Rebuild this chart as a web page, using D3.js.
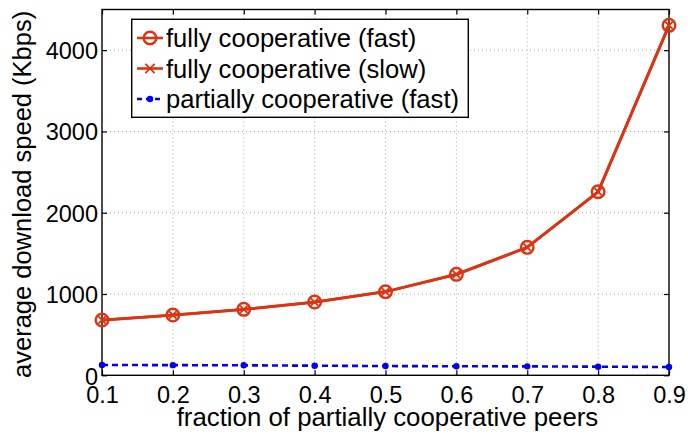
<!DOCTYPE html>
<html><head><meta charset="utf-8">
<script src="https://cdn.jsdelivr.net/npm/d3@7"></script>
<style>body{margin:0;background:#fff}svg{display:block}text{font-family:"Liberation Sans",Arial,sans-serif;fill:#000}</style>
</head><body><svg id="c" width="688" height="435"></svg>
<script>
const fractions = [0.1,0.2,0.3,0.4,0.5,0.6,0.7,0.8,0.9];
const fullyFast = [680,741,811,901,1028,1242,1574,2258,4305];
const fullySlow = [680,741,811,901,1028,1242,1574,2258,4305];
const partialFast = [127,125,123,118,114,111,110,106,102];
const xTicks = [0.1,0.2,0.3,0.4,0.5,0.6,0.7,0.8,0.9];
const yTicks = [0,1000,2000,3000,4000];
const seriesNames = ["fully cooperative (fast)","fully cooperative (slow)","partially cooperative (fast)"];

const red = "#dd3311", blue = "#0000ff";
const svg = d3.select("#c");
const L=102, R=669, T=9.5, B=375.3;
const x = d3.scaleLinear().domain([0.1,0.9]).range([L,R]);
const y = d3.scaleLinear().domain([0,4500]).range([B,T]);

// grid
const g = svg.append("g");
g.selectAll(".gx").data(xTicks.slice(1,-1)).enter().append("line")
 .attr("x1",d=>x(d)).attr("x2",d=>x(d)).attr("y1",T).attr("y2",B)
 .attr("stroke","#aaa").attr("stroke-width",1).attr("stroke-dasharray","1,3");
g.selectAll(".gy").data(yTicks.slice(1)).enter().append("line")
 .attr("x1",L).attr("x2",R).attr("y1",d=>y(d)).attr("y2",d=>y(d))
 .attr("stroke","#aaa").attr("stroke-width",1).attr("stroke-dasharray","1,3");

// axes
const fs = 23.5;
const ax = svg.append("g").attr("transform",`translate(0,${B})`)
 .call(d3.axisBottom(x).tickValues(xTicks).tickFormat(d3.format(".1f")).tickSizeInner(-5).tickSizeOuter(0).tickPadding(11));
const axT = svg.append("g").attr("transform",`translate(0,${T})`)
 .call(d3.axisTop(x).tickValues(xTicks).tickFormat("").tickSizeInner(-5).tickSizeOuter(0));
const ay = svg.append("g").attr("transform",`translate(${L},0)`)
 .call(d3.axisLeft(y).tickValues(yTicks).tickFormat(d3.format("d")).tickSizeInner(-5).tickSizeOuter(0).tickPadding(4));
const ayR = svg.append("g").attr("transform",`translate(${R},0)`)
 .call(d3.axisRight(y).tickValues(yTicks).tickFormat("").tickSizeInner(-5).tickSizeOuter(0));
[ax,axT,ay,ayR].forEach(a=>{
  a.selectAll("path").remove();
  a.selectAll("line").attr("stroke","#000").attr("stroke-width",1.2);
  a.selectAll("text").attr("font-size",fs).attr("font-family","Liberation Sans, Arial, sans-serif").attr("fill","#000");
});
ay.selectAll("text").attr("dy","0.36em");
ay.selectAll(".tick").filter(d=>d===0).select("text").attr("dy","0.38em");
svg.append("rect").attr("x",L).attr("y",T).attr("width",R-L).attr("height",B-T)
 .attr("fill","none").attr("stroke","#000").attr("stroke-width",1.4);

// series
const line = d3.line().x((d,i)=>x(fractions[i])).y(d=>y(d));
svg.append("path").datum(partialFast).attr("d",line).attr("fill","none")
 .attr("stroke",blue).attr("stroke-width",2.6).attr("stroke-dasharray","6,4");
svg.selectAll(".pd").data(partialFast).enter().append("circle")
 .attr("cx",(d,i)=>x(fractions[i])).attr("cy",d=>y(d)).attr("r",3.2).attr("fill",blue);

svg.append("path").datum(fullySlow).attr("d",line).attr("fill","none").attr("stroke",red).attr("stroke-width",2.8);
svg.append("path").datum(fullyFast).attr("d",line).attr("fill","none").attr("stroke",red).attr("stroke-width",2.8);
const xm = 3.6;
fullySlow.forEach((d,i)=>{
  const cx=x(fractions[i]), cy=y(d);
  svg.append("path").attr("d",`M${cx-xm},${cy-xm}L${cx+xm},${cy+xm}M${cx-xm},${cy+xm}L${cx+xm},${cy-xm}`)
   .attr("stroke",red).attr("stroke-width",1.8);
});
svg.selectAll(".fc").data(fullyFast).enter().append("circle")
 .attr("cx",(d,i)=>x(fractions[i])).attr("cy",d=>y(d)).attr("r",6.3)
 .attr("fill","none").attr("stroke",red).attr("stroke-width",2.4);

// labels
svg.append("text").attr("x",(L+R)/2+2).attr("y",425.5).attr("text-anchor","middle").attr("font-size",25.8)
 .text("fraction of partially cooperative peers");
svg.append("text").attr("transform",`translate(31,${(T+B)/2+2}) rotate(-90)`).attr("text-anchor","middle").attr("font-size",25.5)
 .text("average download speed (Kbps)");

// legend
const lg = svg.append("g");
lg.append("rect").attr("x",131.7).attr("y",19.3).attr("width",336.6).attr("height",98).attr("fill","#fff").attr("stroke","#000").attr("stroke-width",1.4);
const rows=[38,68.5,99];
const lx1=137, lx2=163, lmid=150;
// row 0
lg.append("line").attr("x1",lx1).attr("x2",lx2).attr("y1",rows[0]).attr("y2",rows[0]).attr("stroke",red).attr("stroke-width",2.6);
lg.append("circle").attr("cx",lmid).attr("cy",rows[0]).attr("r",6.3).attr("fill","none").attr("stroke",red).attr("stroke-width",2.4);
// row 1
lg.append("line").attr("x1",lx1).attr("x2",lx2).attr("y1",rows[1]).attr("y2",rows[1]).attr("stroke",red).attr("stroke-width",2.6);
lg.append("path").attr("d",`M${lmid-xm-1},${rows[1]-xm-1}L${lmid+xm+1},${rows[1]+xm+1}M${lmid-xm-1},${rows[1]+xm+1}L${lmid+xm+1},${rows[1]-xm-1}`).attr("stroke",red).attr("stroke-width",1.8);
// row 2
lg.append("line").attr("x1",lx1).attr("x2",lx2+1).attr("y1",rows[2]).attr("y2",rows[2]).attr("stroke",blue).attr("stroke-width",2.6).attr("stroke-dasharray","5,4");
lg.append("circle").attr("cx",lmid).attr("cy",rows[2]).attr("r",3.2).attr("fill",blue);
seriesNames.forEach((n,i)=>{
  lg.append("text").attr("x",166).attr("y",rows[i]).attr("dy","0.36em").attr("font-size",25.6).text(n);
});
</script></body></html>
